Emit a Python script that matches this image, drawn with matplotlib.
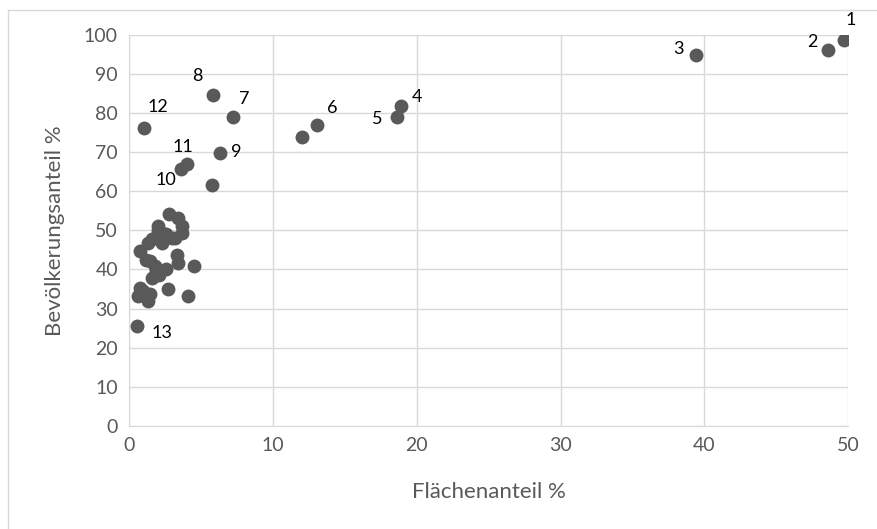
import matplotlib.pyplot as plt
from matplotlib.patches import Rectangle

# Flächenanteil % / Bevölkerungsanteil % (labeled points)
lab_x = [49.7, 48.6, 39.4, 18.9, 18.6, 13.1, 7.25, 5.86, 6.33, 3.6, 4.05, 1.04, 0.56]
lab_y = [98.7, 96.2, 94.9, 81.9, 79.0, 76.9, 78.9, 84.6, 69.9, 65.6, 67.1, 76.1, 25.6]
labels = ["1", "2", "3", "4", "5", "6", "7", "8", "9", "10", "11", "12", "13"]

# unlabeled points
pts_x = [12.0, 5.75,
         2.8, 3.4, 3.65, 2.04, 1.57, 2.27, 3.2, 0.76, 1.46, 3.3, 3.43, 4.52,
         2.6, 1.9, 1.57, 0.76, 0.65, 1.34, 1.46, 2.73, 4.13,
         2.27, 2.6, 3.7, 1.34, 1.9, 2.0, 3.0, 1.2, 2.1, 1.8, 1.0]
pts_y = [73.8, 61.6,
         54.1, 53.2, 51.1, 51.1, 47.7, 46.8, 48.1, 44.7, 42.1, 43.8, 41.7, 40.8,
         40.0, 39.6, 37.9, 35.3, 33.2, 31.9, 33.6, 35.0, 33.2,
         49.4, 49.0, 49.4, 46.8, 48.3, 50.0, 48.0, 42.5, 38.5, 41.0, 34.5]

# text offsets in pixels for the labels
offs = [(7, 20), (-16, 8), (-17, 6), (16, 9), (-19, -2), (15, 17), (11, 18),
        (-16, 19), (16, 1), (-15, -11), (-4, 17), (14, 21), (25, -7)]

grey = "#595959"
grid = "#d9d9d9"
plt.rcParams['font.family'] = ['Lato', 'DejaVu Sans']

fig = plt.figure(figsize=(8.78, 5.29), dpi=100)
fig.patches.append(Rectangle((0.009, -0.01), 1.0, 0.991, transform=fig.transFigure,
                             fill=False, edgecolor=grid, linewidth=1))
ax = fig.add_axes([0.147, 0.195, 0.819, 0.739])

ax.scatter(pts_x, pts_y, s=100, color=grey, zorder=3, linewidths=0)
ax.scatter(lab_x, lab_y, s=100, color=grey, zorder=3, linewidths=0)
for x, y, t, o in zip(lab_x, lab_y, labels, offs):
    ax.annotate(t, (x, y), xytext=o, textcoords='offset pixels',
                ha='center', va='center', fontsize=13, color='black')

ax.set_xlim(0, 50)
ax.set_ylim(0, 100)
ax.set_xticks(range(0, 51, 10))
ax.set_yticks(range(0, 101, 10))
ax.grid(True, color=grid, linewidth=1)
ax.set_axisbelow(True)
for s in ["top", "right"]:
    ax.spines[s].set_visible(False)
for s in ["left", "bottom"]:
    ax.spines[s].set_color(grid)
ax.tick_params(length=0, labelsize=14, labelcolor=grey, pad=8)
ax.set_xlabel("Flächenanteil %", fontsize=16, color=grey, labelpad=20)
ax.set_ylabel("Bevölkerungsanteil %", fontsize=16, color=grey, labelpad=14)

fig.savefig("out.png", dpi=100)
